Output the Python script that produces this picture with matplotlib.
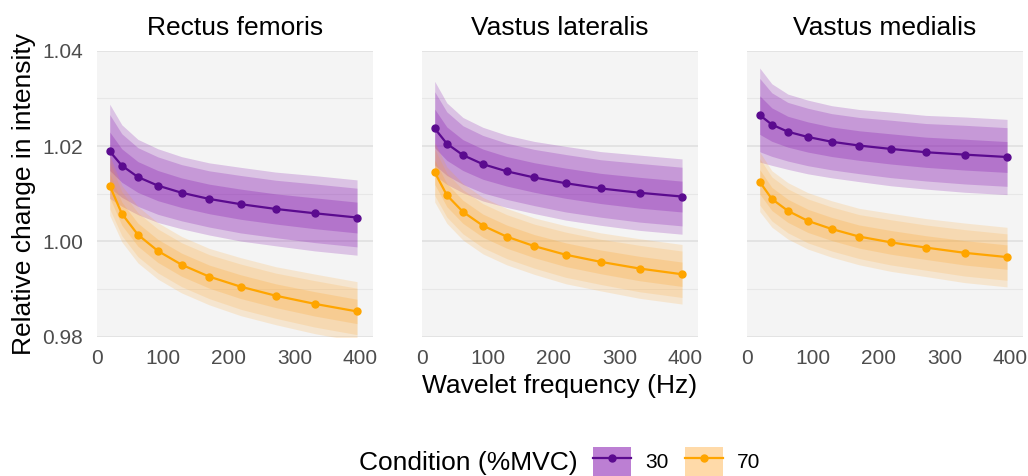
import numpy as np
import matplotlib
matplotlib.use('Agg')
import matplotlib.pyplot as plt
from matplotlib.patches import Patch
from matplotlib.lines import Line2D
from matplotlib.legend_handler import HandlerTuple
from matplotlib.ticker import FormatStrFormatter

plt.rcParams['font.family'] = ['Liberation Sans', 'DejaVu Sans']

# wavelet centre frequencies (Hz)
freqs = [19.29, 37.71, 62.09, 92.36, 128.48, 170.39, 218.02, 271.33, 330.25, 394.77]

muscles = ['Rectus femoris', 'Vastus lateralis', 'Vastus medialis']
conditions = ['30', '70']

# posterior means
rf_30 = [1.0189, 1.0159, 1.0135, 1.0117, 1.0102, 1.0089, 1.0078, 1.0068, 1.0059, 1.0050]
rf_70 = [1.0117, 1.0058, 1.0014, 0.9980, 0.9951, 0.9926, 0.9905, 0.9886, 0.9869, 0.9853]
vl_30 = [1.0237, 1.0205, 1.0181, 1.0162, 1.0147, 1.0134, 1.0122, 1.0111, 1.0102, 1.0094]
vl_70 = [1.0145, 1.0097, 1.0062, 1.0033, 1.0010, 0.9990, 0.9972, 0.9957, 0.9943, 0.9931]
vm_30 = [1.0265, 1.0245, 1.0230, 1.0219, 1.0209, 1.0201, 1.0194, 1.0187, 1.0182, 1.0177]
vm_70 = [1.0125, 1.0089, 1.0064, 1.0043, 1.0026, 1.0010, 0.9998, 0.9987, 0.9976, 0.9967]

# spread (sd) of the estimate, per condition
sd_30 = [0.0060, 0.0052, 0.0048, 0.0047, 0.0046, 0.0046, 0.0047, 0.0047, 0.0048, 0.0048]
sd_70 = [0.0038, 0.0036, 0.0036, 0.0036, 0.0036, 0.0036, 0.0037, 0.0037, 0.0038, 0.0038]

# 90%, 80%, 50% intervals
interval_z = [1.645, 1.282, 0.674]

means = {'Rectus femoris': (rf_30, rf_70),
         'Vastus lateralis': (vl_30, vl_70),
         'Vastus medialis': (vm_30, vm_70)}
sds = (sd_30, sd_70)

fill_cols = ['#7A00A8', '#FFA01E']
band_alpha = [[0.20, 0.21, 0.24], [0.17, 0.16, 0.21]]
line_cols = ['#5B0B8F', '#FFA500']

W, H = 1028, 476
fig = plt.figure(figsize=(W / 100, H / 100), dpi=100)

x = np.array(freqs)
lefts = [97, 422, 747]
for i, m in enumerate(muscles):
    ax = fig.add_axes([lefts[i] / W, 1 - 336.7 / H, 276 / W, 286 / H])
    ax.set_facecolor('#F4F4F4')
    for spine in ax.spines.values():
        spine.set_visible(False)

    for c in range(2):
        mu = np.array(means[m][c])
        sd = np.array(sds[c])
        for z, a in zip(interval_z, band_alpha[c]):
            ax.fill_between(x, mu - z * sd, mu + z * sd, color=fill_cols[c],
                            alpha=a, lw=0)
    for c in range(2):
        ax.plot(x, means[m][c], color=line_cols[c], lw=1.6, marker='o', ms=5)

    ax.set_xlim(1, 419)
    ax.set_ylim(0.98, 1.04)
    ax.set_xticks([0, 100, 200, 300, 400])
    ax.set_yticks([0.98, 1.00, 1.02, 1.04])
    ax.set_yticks([0.99, 1.01, 1.03], minor=True)
    ax.yaxis.set_major_formatter(FormatStrFormatter('%.2f'))
    ax.yaxis.grid(True, which='major', color='#DEDEDE', lw=1.1)
    ax.yaxis.grid(True, which='minor', color='#E7E7E7', lw=0.8)
    ax.set_axisbelow(True)
    ax.tick_params(which='both', length=0, labelsize=15, labelcolor='#4D4D4D')
    ax.tick_params(axis='x', pad=9)
    ax.tick_params(axis='y', pad=10)
    if i > 0:
        ax.tick_params(labelleft=False)
    ax.set_title(m, fontsize=19, pad=11)

fig.text(24 / W, 1 - 193.7 / H, 'Relative change in intensity', rotation=90,
         fontsize=19, ha='center', va='center')
fig.text(560 / W, 1 - 393 / H, 'Wavelet frequency (Hz)', fontsize=19,
         ha='center', va='baseline')

fig.text(359 / W, 1 - 470 / H, 'Condition (%MVC)', fontsize=19, va='baseline')
handles = [(Patch(facecolor=fill_cols[c], alpha=[0.5, 0.38][c], lw=0),
            Line2D([], [], color=line_cols[c], lw=1.6, marker='o', ms=5))
           for c in range(2)]
fig.legend(handles, conditions, handler_map={tuple: HandlerTuple(ndivide=1, pad=0)},
           ncol=2, loc='center left', bbox_to_anchor=(593 / W, 1 - 461.7 / H),
           frameon=False, fontsize=15, handlelength=1.83, handleheight=1.83,
           handletextpad=0.67, columnspacing=0.77, borderpad=0, borderaxespad=0)

fig.savefig('out.png', dpi=100)
